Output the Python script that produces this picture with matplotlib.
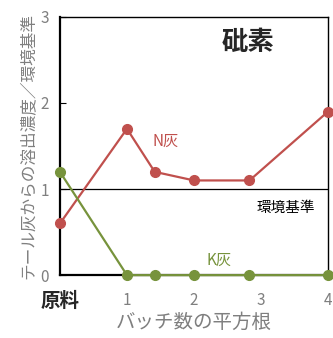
import numpy as np
import matplotlib.pyplot as plt

plt.rcParams['font.family'] = ['Noto Sans CJK JP', 'DejaVu Sans']

# square root of batch count (0 = raw material)
x = [0, 1, np.sqrt(2), 2, np.sqrt(8), 4]
n_ash = [0.6, 1.7, 1.2, 1.1, 1.1, 1.9]
k_ash = [1.2, 0, 0, 0, 0, 0]
xtick_labels = ['原料', '1', '2', '3', '4']

red = '#C0504D'
green = '#77933C'
grey = '#7F7F7F'

fig = plt.figure(figsize=(3.33, 3.38), dpi=100)
ax = fig.add_axes([0.180, 0.186, 0.805, 0.764])

ax.plot(x, n_ash, color=red, lw=1.6, marker='o', ms=7, clip_on=False, zorder=3)
ax.plot(x, k_ash, color=green, lw=1.6, marker='o', ms=7, clip_on=False, zorder=3)
ax.axhline(1, color='black', lw=0.9, zorder=2)

ax.set_xlim(0, 4)
ax.set_ylim(0, 3)
ax.set_yticks([0, 1, 2, 3])
ax.set_xticks([0, 1, 2, 3, 4])
ax.set_xticklabels(xtick_labels)
ax.tick_params(axis='y', direction='in', length=4, labelsize=11, labelcolor=grey, pad=8)
ax.tick_params(axis='x', length=0, labelsize=11, labelcolor=grey, pad=12)
first = ax.get_xticklabels()[0]
first.set_fontsize(14)
first.set_fontweight('bold')
first.set_color('#262626')

for side in ['left', 'bottom']:
    ax.spines[side].set_linewidth(1.6)
for side in ['top', 'right']:
    ax.spines[side].set_linewidth(1.0)

ax.set_xlabel('バッチ数の平方根', fontsize=14, color=grey, labelpad=1)
ax.set_ylabel('テール灰からの溶出濃度／環境基準', fontsize=12, color=grey, labelpad=3)

ax.text(1.58, 1.55, 'N灰', color=red, fontsize=11, ha='center', va='center')
ax.text(2.37, 0.17, 'K灰', color=green, fontsize=11, ha='center', va='center')
ax.text(3.37, 0.78, '環境基準', color='black', fontsize=10.5, ha='center', va='center')
ax.text(2.81, 2.70, '砒素', color='#262626', fontsize=19, fontweight='bold',
        ha='center', va='center')

fig.savefig('out.png', dpi=100)
